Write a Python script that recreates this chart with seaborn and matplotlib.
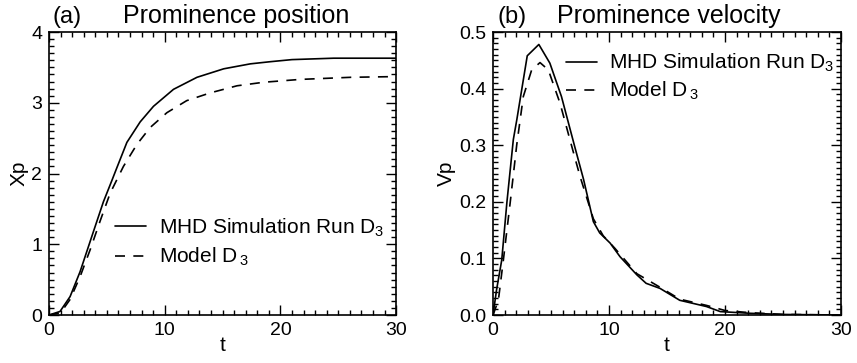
import matplotlib
matplotlib.use("Agg")
import matplotlib.pyplot as plt
from matplotlib.ticker import MultipleLocator, FormatStrFormatter
import seaborn as sns

# (a) prominence position
t_pos_mhd = [0, 0.95, 1.82, 2.68, 3.84, 4.7, 5.43, 5.86, 6.73, 7.88, 9.03, 10.76, 12.79,
             15.1, 17.4, 19.1, 21, 24.6, 30]
xp_mhd = [0, 0.05, 0.26, 0.61, 1.18, 1.60, 1.90, 2.08, 2.44, 2.73, 2.95, 3.19, 3.36,
          3.48, 3.55, 3.58, 3.61, 3.63, 3.63]
t_pos_model = [0, 1, 1.82, 2.68, 3.55, 4.42, 5.28, 6.43, 7.59, 8.74, 10.19, 11.9, 13.94,
               16.25, 18.55, 21.7, 26.1, 30]
xp_model = [0, 0.03, 0.22, 0.54, 0.92, 1.33, 1.72, 2.10, 2.41, 2.65, 2.86, 3.03, 3.14,
            3.24, 3.29, 3.33, 3.36, 3.37]

# (b) prominence velocity
t_vel_mhd = [0, 0.3, 0.75, 1.2, 1.75, 2.05, 2.95, 3.95, 4.9, 5.9, 7.05, 7.8, 8.65, 9.2, 10.1,
             10.95, 12.4, 13.2, 14.4, 16.1, 18.4, 19.6, 22.2, 25, 30]
vp_mhd = [0, 0.044, 0.097, 0.2, 0.31, 0.345, 0.458, 0.478, 0.445, 0.386, 0.297, 0.24, 0.165, 0.145, 0.127,
          0.103, 0.071, 0.056, 0.047, 0.026, 0.015, 0.006, 0.003, 0.001, 0]
t_vel_model = [0, 0.46, 0.89, 1.47, 2.04, 2.61, 3.33, 4.05, 4.77, 5.78, 6.64, 7.5, 8.65, 9.5, 10.5,
               12.4, 14.4, 16.1, 18.4, 20, 22.2, 25, 30]
vp_model = [0, 0.026, 0.097, 0.197, 0.30, 0.386, 0.433, 0.446, 0.433, 0.374, 0.309, 0.245, 0.17, 0.14, 0.118,
            0.073, 0.049, 0.028, 0.017, 0.008, 0.004, 0.001, 0]

lab_mhd = "MHD Simulation Run D$_3$"
lab_model = r"Model D$_{\,3}$"

sns.set_style("ticks")
plt.rcParams["font.family"] = ["Liberation Sans", "DejaVu Sans"]
plt.rcParams["mathtext.default"] = "regular"
plt.rcParams["text.color"] = "k"
plt.rcParams["axes.labelcolor"] = "k"

fig = plt.figure(figsize=(8.57, 3.63), dpi=100)
ax1 = fig.add_axes([0.0572, 0.1322, 0.405, 0.7796])
ax2 = fig.add_axes([0.5753, 0.1322, 0.406, 0.7796])

dash = (0, (6, 5))

sns.lineplot(x=t_pos_mhd, y=xp_mhd, ax=ax1, color="k", lw=1.2, label=lab_mhd)
sns.lineplot(x=t_pos_model, y=xp_model, ax=ax1, color="k", lw=1.2, linestyle=dash, label=lab_model)
sns.lineplot(x=t_vel_mhd, y=vp_mhd, ax=ax2, color="k", lw=1.2, label=lab_mhd)
sns.lineplot(x=t_vel_model, y=vp_model, ax=ax2, color="k", lw=1.2, linestyle=dash, label=lab_model)

for ax in (ax1, ax2):
    ax.set_xlim(0, 30)
    ax.xaxis.set_major_locator(MultipleLocator(10))
    ax.xaxis.set_minor_locator(MultipleLocator(1))
    ax.tick_params(which="both", direction="in", top=True, right=True, width=1, colors="k", labelsize=14, pad=5)
    ax.tick_params(which="major", length=7)
    ax.tick_params(which="minor", length=3.5)
    for s in ax.spines.values():
        s.set_linewidth(1.2)
        s.set_color("k")
    ax.set_xlabel("t", fontsize=15, labelpad=-2)

ax1.set_ylim(0, 4)
ax1.yaxis.set_major_locator(MultipleLocator(1))
ax1.yaxis.set_minor_locator(MultipleLocator(0.1))
ax1.set_ylabel("Xp", fontsize=15, labelpad=2)

ax2.set_ylim(0, 0.5)
ax2.yaxis.set_major_locator(MultipleLocator(0.1))
ax2.yaxis.set_minor_locator(MultipleLocator(0.01))
ax2.yaxis.set_major_formatter(FormatStrFormatter("%.1f"))
ax2.set_ylabel("Vp", fontsize=15, labelpad=2)

ax1.legend(loc="upper left", bbox_to_anchor=(0.19, 0.348), frameon=False, fontsize=15,
           handlelength=1.5, handletextpad=0.6, borderpad=0, borderaxespad=0, labelspacing=0.35)
ax2.legend(loc="upper left", bbox_to_anchor=(0.21, 0.93), frameon=False, fontsize=15,
           handlelength=1.5, handletextpad=0.55, borderpad=0, borderaxespad=0, labelspacing=0.28)

ax1.text(0.009, 1.032, "(a)", transform=ax1.transAxes, fontsize=17, va="baseline", ha="left")
ax1.text(0.54, 1.032, "Prominence position", transform=ax1.transAxes, fontsize=18, va="baseline", ha="center")
ax2.text(0.014, 1.032, "(b)", transform=ax2.transAxes, fontsize=17, va="baseline", ha="left")
ax2.text(0.505, 1.032, "Prominence velocity", transform=ax2.transAxes, fontsize=18, va="baseline", ha="center")

fig.savefig("out.png", dpi=100, facecolor="white")
